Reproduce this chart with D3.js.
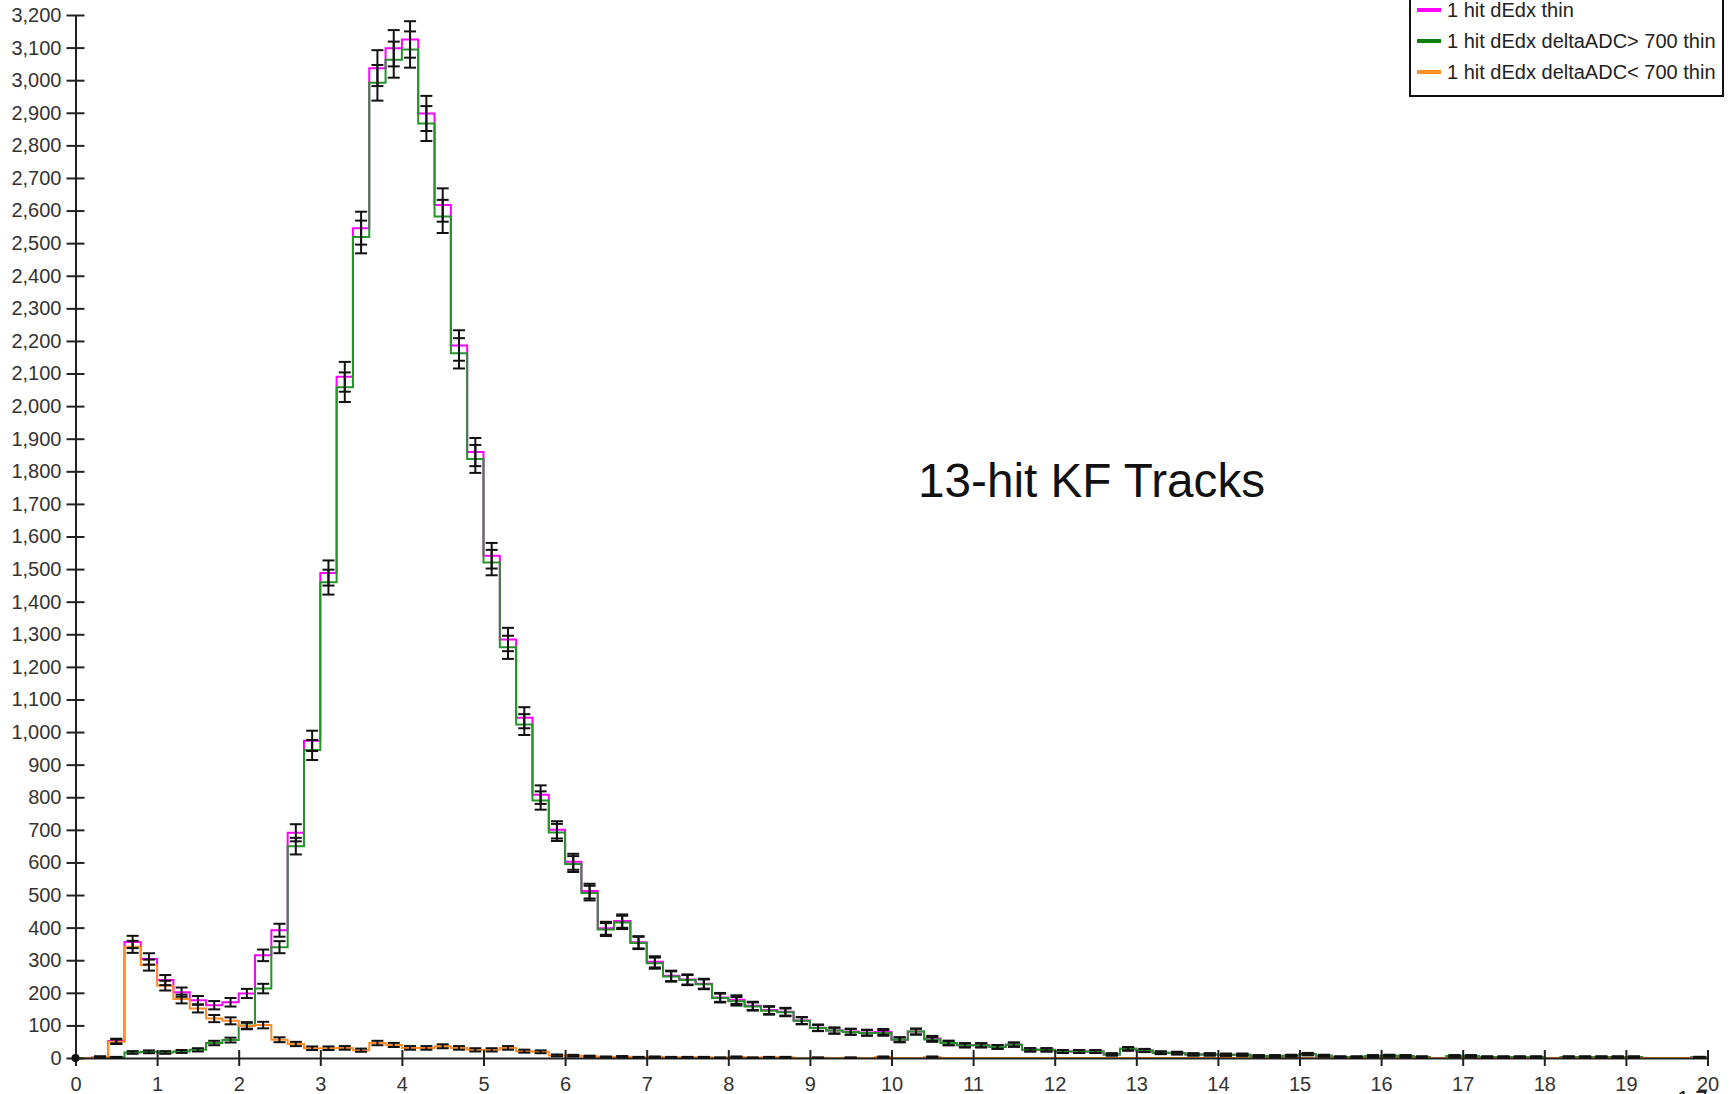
<!DOCTYPE html>
<html>
<head>
<meta charset="utf-8">
<script src="https://cdn.jsdelivr.net/npm/d3@7"></script>
<style>
  html, body { margin: 0; padding: 0; background: #fff; }
  svg { display: block; }
</style>
</head>
<body>
<script>
// Histogram: 100 bins of width 0.2 from 0 to 20
const binWidth = 0.2
const xTicks = d3.range(0, 21, 1)
const yTicks = d3.range(0, 3201, 100)

const seriesNames = ['1 hit dEdx thin', '1 hit dEdx deltaADC> 700 thin', '1 hit dEdx deltaADC< 700 thin']

// 1 hit dEdx thin (all)
const allHits = [
  0, 3, 52, 356, 304, 239, 202, 177, 162, 171,
  198, 315, 392, 691, 973, 1488, 2090, 2546, 3037, 3098,
  3125, 2898, 2617, 2186, 1859, 1541, 1284, 1044, 808, 700,
  602, 512, 398, 420, 355, 295, 252, 241, 228, 186,
  179, 160, 147, 142, 115, 93, 84, 81, 78, 80,
  56, 81, 60, 46, 39, 39, 34, 41, 25, 25,
  20, 20, 20, 11, 28, 23, 16, 15, 11, 11,
  10, 10, 6, 6, 7, 12, 7, 3, 3, 6,
  7, 6, 3, 0, 6, 6, 3, 3, 3, 3,
  0, 3, 3, 3, 3, 3, 0, 0, 0, 2
]

// deltaADC > 700
const highADC = [
  0, 0, 2, 17, 19, 17, 20, 25, 46, 55,
  100, 213, 340, 650, 945, 1460, 2058, 2519, 2992, 3063,
  3094, 2867, 2582, 2162, 1838, 1520, 1260, 1023, 790, 692,
  595, 506, 394, 416, 353, 291, 250, 239, 226, 184,
  174, 158, 145, 140, 114, 92, 84, 80, 77, 77,
  56, 81, 57, 46, 39, 39, 34, 41, 25, 25,
  20, 20, 20, 11, 28, 23, 16, 15, 11, 11,
  10, 10, 6, 6, 7, 12, 7, 3, 3, 6,
  7, 6, 3, 0, 6, 6, 3, 3, 3, 3,
  0, 3, 3, 3, 3, 3, 0, 0, 0, 2
]

// deltaADC < 700
const lowADC = [
  0, 3, 50, 341, 285, 222, 181, 152, 121, 114,
  98, 101, 56, 43, 30, 30, 31, 24, 46, 40,
  31, 31, 36, 31, 25, 25, 31, 21, 19, 8,
  7, 5, 3, 4, 2, 3, 2, 2, 2, 1,
  3, 1, 2, 2, 0, 1, 0, 1, 0, 3,
  0, 0, 3, 0, 0, 0, 0, 0, 0, 0,
  0, 0, 0, 0, 0, 0, 0, 0, 0, 0,
  0, 0, 0, 0, 0, 0, 0, 0, 0, 0,
  0, 0, 0, 0, 0, 0, 0, 0, 0, 0,
  0, 0, 0, 0, 0, 0, 0, 0, 0, 0
]

const colors = {
  all: '#ff00ff',
  high: '#23932a',
  low: '#ff8c24',
  legendHigh: '#0a800a',
  axis: '#222',
  text: '#333',
  err: '#111',
}

const width = 1735
const height = 1094
const plot = { left: 75.5, right: 1707.5, top: 15, bottom: 1058 }
const font = "'Liberation Sans', Arial, sans-serif"

const svg = d3.select('body').append('svg')
  .attr('width', width)
  .attr('height', height)
  .attr('viewBox', `0 0 ${width} ${height}`)

svg.append('rect').attr('width', width).attr('height', height).attr('fill', '#fff')

const x = d3.scaleLinear().domain([0, 20]).range([plot.left, plot.right])
const y = d3.scaleLinear().domain([0, 3200]).range([plot.bottom, plot.top])

// Step outlines
const series = [
  { values: allHits, color: colors.all },
  { values: highADC, color: colors.high },
  { values: lowADC, color: colors.low },
]

const stepLine = d3.line()
  .x(d => x(d[0]))
  .y(d => y(d[1]))
  .curve(d3.curveStepAfter)

series.forEach(s => {
  const pts = s.values.map((v, i) => [i * binWidth, v])
  pts.push([20, s.values[s.values.length - 1]])
  svg.append('path')
    .attr('d', stepLine(pts))
    .attr('fill', 'none')
    .attr('stroke', s.color)
    .attr('stroke-width', 2)
})

// Axes
const yAxis = svg.append('g')
  .attr('transform', `translate(${plot.left},0)`)
  .call(d3.axisLeft(y).tickValues(yTicks).tickFormat(d3.format(',')).tickSize(9).tickSizeOuter(0).tickPadding(5))
yAxis.selectAll('.tick line').attr('x1', 9)

const xAxis = svg.append('g')
  .attr('transform', `translate(0,${plot.bottom})`)
  .call(d3.axisBottom(x).tickValues(xTicks).tickFormat(d3.format('d')).tickSize(8).tickSizeOuter(0).tickPadding(11))
xAxis.selectAll('.tick line').attr('y1', -8)

;[yAxis, xAxis].forEach(ax => {
  ax.select('.domain').attr('stroke', colors.axis).attr('stroke-width', 2)
  ax.selectAll('.tick line').attr('stroke', colors.axis).attr('stroke-width', 2)
  ax.selectAll('.tick text')
    .attr('fill', colors.text)
    .style('font-family', font)
    .style('font-size', '20px')
})

// Error bars (sqrt N)
const capHalf = 6
series.forEach(s => {
  const g = svg.append('g').attr('stroke', colors.err).attr('stroke-width', 2)
  s.values.forEach((v, i) => {
    if (v <= 0) return
    const cx = x(i * binWidth + binWidth / 2)
    const e = Math.sqrt(v)
    const y1 = y(v + e)
    const y2 = y(Math.max(v - e, 0))
    g.append('line').attr('x1', cx).attr('x2', cx).attr('y1', y1).attr('y2', y2)
    g.append('line').attr('x1', cx - capHalf).attr('x2', cx + capHalf).attr('y1', y1).attr('y2', y1)
    g.append('line').attr('x1', cx - capHalf).attr('x2', cx + capHalf).attr('y1', y2).attr('y2', y2)
  })
})

// origin marker
svg.append('circle').attr('cx', x(0)).attr('cy', y(0)).attr('r', 4).attr('fill', '#111')

// Annotation
svg.append('text')
  .attr('x', 918)
  .attr('y', 497)
  .style('font-family', font)
  .style('font-size', '47.7px')
  .attr('fill', '#111')
  .text('13-hit KF Tracks')

// cut-off exponent label at bottom right
svg.append('text')
  .attr('x', 1677)
  .attr('y', 1106)
  .style('font-family', font)
  .style('font-size', '22px')
  .attr('fill', '#111')
  .text('1.7')

// Legend
const legend = svg.append('g').attr('transform', 'translate(1410,-6)')
legend.append('rect')
  .attr('width', 313).attr('height', 102)
  .attr('fill', '#fff').attr('stroke', '#111').attr('stroke-width', 2)

const legendColors = [colors.all, colors.legendHigh, colors.low]
seriesNames.forEach((name, i) => {
  const cy = 16 + i * 31
  legend.append('line')
    .attr('x1', 7).attr('x2', 31).attr('y1', cy).attr('y2', cy)
    .attr('stroke', legendColors[i]).attr('stroke-width', 4)
  legend.append('text')
    .attr('x', 37).attr('y', cy + 7)
    .style('font-family', font)
    .style('font-size', '20px')
    .attr('fill', '#222')
    .text(name)
})
</script>
</body>
</html>
